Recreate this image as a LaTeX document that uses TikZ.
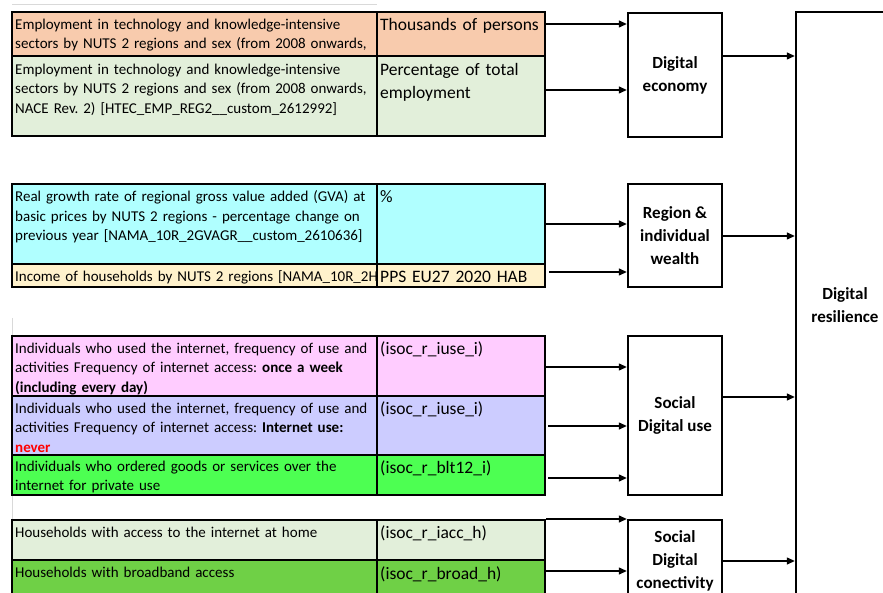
\documentclass[tikz,border=0pt]{standalone}
\usepackage{fontspec}
\setmainfont{Carlito}
\usetikzlibrary{arrows.meta}
\frenchspacing

% cell colours
\definecolor{cellpeach}{HTML}{F8CBAD}
\definecolor{cellmint}{HTML}{E2EFDA}
\definecolor{cellaqua}{HTML}{B0FFFF}
\definecolor{cellcream}{HTML}{FFF2CC}
\definecolor{cellpink}{HTML}{FFCCFF}
\definecolor{celllilac}{HTML}{CCCCFF}
\definecolor{celllime}{HTML}{4DFF52}
\definecolor{cellgrass}{HTML}{6FD046}

% fonts
\newcommand\desctext{\fontsize{15}{19.5}\selectfont}
\newcommand\unittext{\fontsize{17.5}{23}\selectfont}
\newcommand\blocktext{\fontsize{17}{23}\selectfont\bfseries}

\begin{document}
\begin{tikzpicture}[x=1pt, y=-1pt,
    desc/.style={anchor=base west, inner sep=0pt, text width=362pt, align=left, font=\desctext},
    unit/.style={anchor=base west, inner sep=0pt, text width=162pt, align=left, font=\unittext},
    block/.style={draw, line width=2.4pt, minimum width=94pt, align=center, font=\blocktext, inner sep=2pt},
    link/.style={line width=1.3pt, -{Triangle[length=8pt,width=7pt]}},
    frame/.style={line width=2.2pt},
    rule/.style={line width=1.3pt},
    faint/.style={line width=0.8pt, black!15}]

    \useasboundingbox (0,0) rectangle (883,593);
    \clip (0,0) rectangle (883,593);

    % --- Sheet grid remnants ---
    \draw[faint] (12,4) -- (377,4);
    \draw[faint] (12,318) -- (12,336);
    \draw[faint] (12,495) -- (12,520);

    % --- Cell fills ---
    % Digital economy table
    \fill[cellpeach] (12,12) rectangle (545,56);
    \fill[cellmint] (12,56) rectangle (545,136);
    % Wealth table
    \fill[cellaqua] (12,184) rectangle (545,264);
    \fill[cellcream] (12,264) rectangle (545,287);
    % Digital use table
    \fill[cellpink] (12,336) rectangle (545,396);
    \fill[celllilac] (12,396) rectangle (545,455);
    \fill[celllime] (12,455) rectangle (545,495);
    % Connectivity table
    \fill[cellmint] (12,520) rectangle (545,560);
    \fill[cellgrass] (12,560) rectangle (545,610);

    % --- Indicator texts ---
    \node[desc] (desc11) at (15,29.5) {Employment in technology and knowledge-intensive\\sectors by NUTS 2 regions and sex (from 2008 onwards,};
    \node[unit] (unit11) at (380,30.5) {Thousands of persons};
    \node[desc] (desc12) at (15,74.5) {Employment in technology and knowledge-intensive\\sectors by NUTS 2 regions and sex (from 2008 onwards,\\NACE Rev. 2) [HTEC\_EMP\_REG2\_\_custom\_2612992]};
    \node[unit] (unit12) at (380,75.5) {Percentage of total\\employment};

    \node[desc] (desc21) at (15,202) {Real growth rate of regional gross value added (GVA) at\\basic prices by NUTS 2 regions - percentage change on\\previous year [NAMA\_10R\_2GVAGR\_\_custom\_2610636]};
    \node[unit] (unit21) at (380,202.5) {\%};
    % this one is cut off by the next column
    \begin{scope}
        \clip (12,264) rectangle (377,287);
        \node[desc, text width=400pt] (desc22) at (15,281.5) {Income of households by NUTS 2 regions [NAMA\_10R\_2H};
    \end{scope}
    \node[unit] (unit22) at (380,282.5) {PPS EU27 2020 HAB};

    \node[desc] (desc31) at (15,353.5) {Individuals who used the internet, frequency of use and\\activities Frequency of internet access: \textbf{once a week}\\\textbf{(including every day)}};
    \node[unit] (unit31) at (380,354.5) {(isoc\_r\_iuse\_i)};
    \node[desc] (desc32) at (15,413) {Individuals who used the internet, frequency of use and\\activities Frequency of internet access: \textbf{Internet use:}\\\textcolor{red}{\textbf{never}}};
    \node[unit] (unit32) at (380,414) {(isoc\_r\_iuse\_i)};
    \node[desc] (desc33) at (15,471) {Individuals who ordered goods or services over the\\internet for private use};
    \node[unit] (unit33) at (380,473) {(isoc\_r\_blt12\_i)};

    \node[desc] (desc41) at (15,537) {Households with access to the internet at home};
    \node[unit] (unit41) at (380,538) {(isoc\_r\_iacc\_h)};
    \node[desc] (desc42) at (15,577) {Households with broadband access};
    \node[unit] (unit42) at (380,579) {(isoc\_r\_broad\_h)};

    % --- Table lines ---
    % Row dividers
    \draw[rule] (12,56) -- (545,56);
    \draw[rule] (12,264) -- (545,264);
    \draw[rule] (12,396) -- (545,396);
    \draw[rule] (12,455) -- (545,455);
    \draw[rule] (12,560) -- (545,560);
    % Column dividers
    \draw[rule] (377,12) -- (377,136);
    \draw[rule] (377,184) -- (377,287);
    \draw[rule] (377,336) -- (377,495);
    \draw[rule] (377,520) -- (377,610);
    % Outer borders
    \draw[frame] (12,12) rectangle (545,136);
    \draw[frame] (12,184) rectangle (545,287);
    \draw[frame] (12,336) rectangle (545,495);
    \draw[frame] (12,520) rectangle (545,610);

    % --- Dimension blocks ---
    \node[block, minimum height=124pt] (econ) at (675,75) {Digital\\economy};
    \node[block, minimum height=103pt] (wealth) at (675,235.5) {Region \&\\individual\\wealth};
    \node[block, minimum height=159pt] (use) at (675,415.5) {Social\\Digital use};
    \node[block, minimum height=82pt] (conn) at (675,561) {Social\\Digital\\conectivity};
    \node[block, minimum width=98pt, minimum height=586pt] (resil) at (845,305) {Digital\\resilience};

    % --- Arrows from the tables ---
    \coordinate (in11) at (546,24);
    \coordinate (in12) at (546,90);
    \coordinate (in21) at (546,224);
    \coordinate (in22) at (549,272);
    \coordinate (in31) at (546,367);
    \coordinate (in32) at (548,426);
    \coordinate (in33) at (548,478);
    \coordinate (in41) at (546,519);
    \coordinate (in42) at (546,571);
    \draw[link] (in11) -- (in11 -| econ.west);
    \draw[link] (in12) -- (in12 -| econ.west);
    \draw[link] (in21) -- (in21 -| wealth.west);
    \draw[link] (in22) -- (in22 -| wealth.west);
    \draw[link] (in31) -- (in31 -| use.west);
    \draw[link] (in32) -- (in32 -| use.west);
    \draw[link] (in33) -- (in33 -| use.west);
    \draw[link] (in41) -- (in41 -| conn.west);
    \draw[link] (in42) -- (in42 -| conn.west);

    % --- Arrows into Digital resilience ---
    \coordinate (out1) at (econ.east |- 0,56);
    \coordinate (out2) at (wealth.east |- 0,236);
    \coordinate (out3) at (use.east |- 0,397);
    \coordinate (out4) at (conn.east |- 0,561);
    \draw[link] (out1) -- (out1 -| resil.west);
    \draw[link] (out2) -- (out2 -| resil.west);
    \draw[link] (out3) -- (out3 -| resil.west);
    \draw[link] (out4) -- (out4 -| resil.west);

\end{tikzpicture}
\end{document}
